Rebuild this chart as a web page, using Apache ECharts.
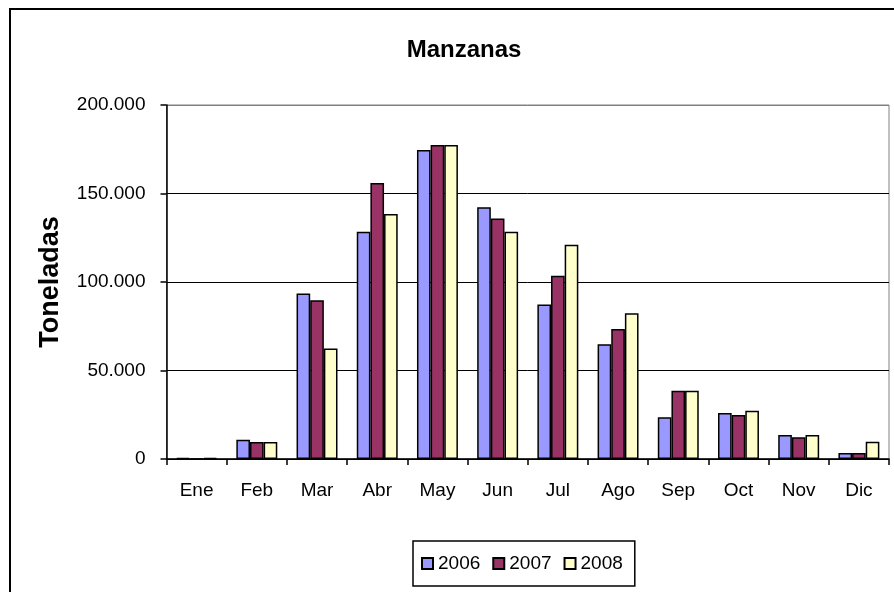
<!DOCTYPE html>
<html>
<head>
<meta charset="utf-8">
<script src="https://cdn.jsdelivr.net/npm/echarts@6/dist/echarts.min.js"></script>
<style>
  html, body { margin: 0; padding: 0; background: #fff; }
  #chart { width: 894px; height: 592px; }
</style>
</head>
<body>
<div id="chart"></div>
<script>
// datos (toneladas)
const meses = ["Ene", "Feb", "Mar", "Abr", "May", "Jun", "Jul", "Ago", "Sep", "Oct", "Nov", "Dic"];
const anios = ["2006", "2007", "2008"];
const valores2006 = [700, 10900, 93500, 128400, 174600, 142300, 87300, 64800, 23600, 26000, 13600, 3400];
const valores2007 = [0, 9600, 89700, 155900, 177400, 135900, 103500, 73500, 38500, 24900, 12300, 3400];
const valores2008 = [700, 9600, 62400, 138400, 177400, 128400, 121000, 82400, 38500, 27300, 13600, 9800];
const colores = ["#9999FF", "#993366", "#FFFFCC"];

const chart = echarts.init(document.getElementById("chart"));

const fuente = "Liberation Sans, Arial, sans-serif";

function serie(nombre, datos, color) {
  return {
    name: nombre,
    type: "bar",
    data: datos,
    barGap: "0%",
    barCategoryGap: "32%",
    itemStyle: {
      color: color,
      borderColor: "#000",
      borderWidth: 1.5,
    },
  };
}

const option = {
  animation: false,
  textStyle: { fontFamily: fuente },
  title: {
    text: "Manzanas",
    left: 459,
    textAlign: "center",
    top: 33,
    textStyle: { fontSize: 24, fontWeight: "bold", color: "#000", fontFamily: fuente },
  },
  grid: {
    left: 166.5,
    right: 5,
    top: 105,
    bottom: 133,
    show: true,
    borderColor: "#808080",
    borderWidth: 1,
  },
  legend: {
    data: anios,
    left: 413,
    top: 541,
    icon: "rect",
    itemWidth: 11,
    itemHeight: 11,
    itemGap: 12,
    padding: [13, 12, 13, 8],
    borderColor: "#000",
    borderWidth: 1.5,
    textStyle: { fontSize: 19, color: "#000", fontFamily: fuente },
  },
  xAxis: {
    type: "category",
    data: meses,
    axisLine: { lineStyle: { color: "#000", width: 1.5 } },
    axisTick: { show: true, length: 6, lineStyle: { color: "#000", width: 1.5 } },
    axisLabel: { color: "#000", fontSize: 19, margin: 22, fontFamily: fuente },
  },
  yAxis: {
    type: "value",
    min: 0,
    max: 200000,
    interval: 50000,
    name: "Toneladas",
    nameLocation: "middle",
    nameGap: 102,
    nameTextStyle: { fontSize: 27, fontWeight: "bold", color: "#000", fontFamily: fuente },
    axisLine: { show: true, lineStyle: { color: "#000", width: 1.5 } },
    axisTick: { show: true, length: 6, lineStyle: { color: "#000", width: 1.5 } },
    axisLabel: {
      color: "#000",
      fontSize: 19,
      margin: 21,
      fontFamily: fuente,
      formatter: (v) => (v === 0 ? "0" : (v / 1000).toFixed(0) + ".000"),
    },
    splitLine: {
      show: true,
      lineStyle: { color: ["#000", "#000", "#000", "#000", "#808080"], width: 1 },
    },
  },
  graphic: [
    {
      // marco del area del grafico (solo se ve el borde izquierdo y superior)
      type: "rect",
      shape: { x: 10, y: 9, width: 920, height: 620 },
      style: { fill: "none", stroke: "#000", lineWidth: 2 },
      silent: true,
    },
  ],
  series: [
    serie(anios[0], valores2006, colores[0]),
    serie(anios[1], valores2007, colores[1]),
    serie(anios[2], valores2008, colores[2]),
  ],
};

chart.setOption(option);
</script>
</body>
</html>
